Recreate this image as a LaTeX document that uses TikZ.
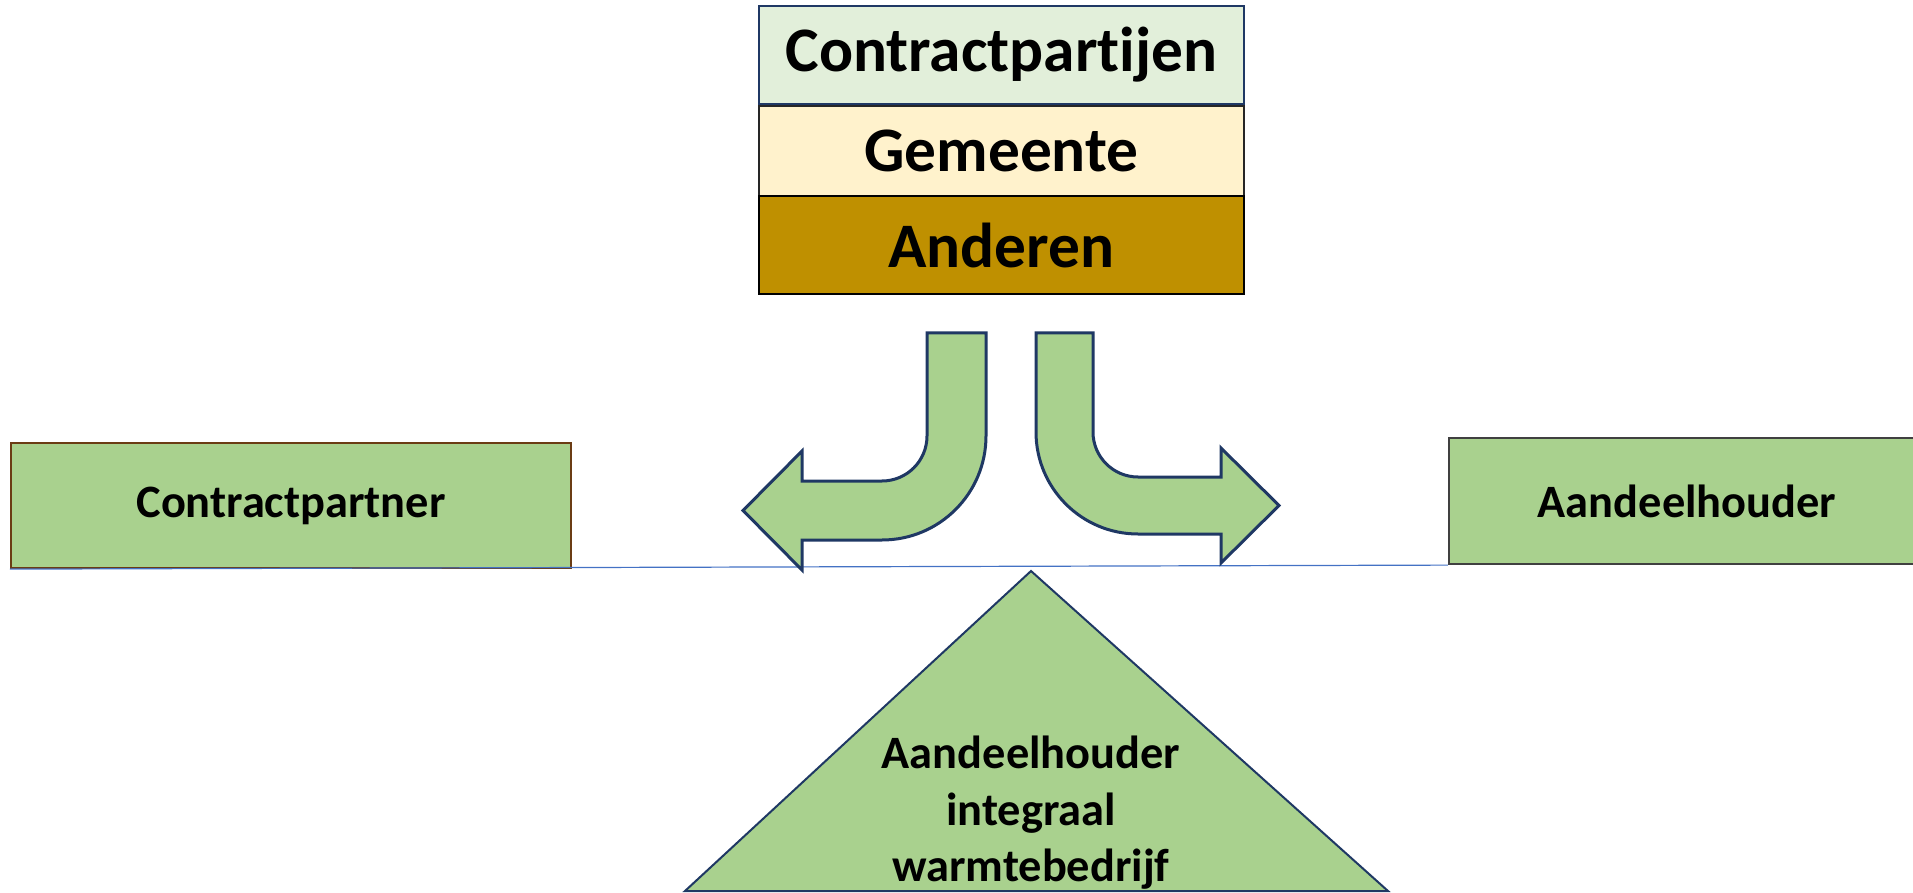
\documentclass[tikz,border=0pt]{standalone}
\usepackage{fontspec}
\setmainfont{Carlito}[RawFeature={-liga}]
\definecolor{navy}{HTML}{1F3864}
\definecolor{paleGreen}{HTML}{E2EFDA}
\definecolor{paleYellow}{HTML}{FFF2CC}
\definecolor{ochre}{HTML}{BF9000}
\definecolor{leaf}{HTML}{A9D18E}
\definecolor{barkBrown}{HTML}{6B3C14}
\definecolor{slate}{HTML}{404040}
\definecolor{lineBlue}{HTML}{4472C4}
\tikzset{
  stackbox/.style={draw, line width=1.1pt, minimum width=242.5pt, inner sep=0pt,
    font=\fontsize{31.7}{38}\selectfont\bfseries},
  sidebox/.style={draw, line width=1.1pt, fill=leaf, inner sep=0pt,
    font=\fontsize{23.2}{28}\selectfont\bfseries},
  bentarrow/.style={draw=navy, fill=leaf, line width=1.5pt, line join=miter},
}
\begin{document}
\begin{tikzpicture}[x=0.5pt,y=0.5pt]
\useasboundingbox (0,0) rectangle (1913,-893);

% stacked party boxes
\node[stackbox, draw=navy, fill=paleGreen, minimum height=49pt] (cp) at (1001.5,-55) {Contractpartijen};
\node[stackbox, draw=black!85, fill=paleYellow, minimum height=45pt] (gem) at (1001.5,-151) {Gemeente};
\node[stackbox, draw=black, fill=ochre, minimum height=49pt] (and) at (1001.5,-245) {Anderen};

% side boxes
\node[sidebox, draw=barkBrown, minimum width=280pt, minimum height=62.5pt] (partner) at (291,-505.5) {Contractpartner};
\node[sidebox, draw=slate, minimum width=238pt, minimum height=63pt] (holder) at (1687,-501) {Aandeelhouder};

% balance line
\draw[lineBlue, line width=0.6pt] (partner.south west) -- (holder.south west);

% bent arrow to the left
\draw[bentarrow] (927,-333) -- (986,-333) -- (986,-436)
  arc[start angle=0, end angle=-90, radius=52pt]
  -- (802,-540) -- (802,-570) -- (743,-510.5) -- (802,-451) -- (802,-481) -- (882,-481)
  arc[start angle=-90, end angle=0, radius=22.5pt] -- cycle;

% bent arrow to the right
\draw[bentarrow] (1036,-333) -- (1093,-333) -- (1093,-432)
  arc[start angle=180, end angle=270, radius=22.5pt]
  -- (1221,-477) -- (1221,-448) -- (1279,-505.5) -- (1221,-563) -- (1221,-534) -- (1138,-534)
  arc[start angle=270, end angle=180, radius=51pt] -- cycle;

% fulcrum triangle
\coordinate (apex) at (1031,-571);
\coordinate (baseL) at (685,-891);
\coordinate (baseR) at (1388,-891);
\draw[navy, fill=leaf, line width=1pt, line join=miter] (apex) -- (baseR) -- (baseL) -- cycle;
\node[align=center, inner sep=0pt, font=\fontsize{23.2}{28.3}\selectfont\bfseries] (iwb) at (1031,-813)
  {Aandeelhouder\\integraal\\warmtebedrijf};
\end{tikzpicture}
\end{document}
